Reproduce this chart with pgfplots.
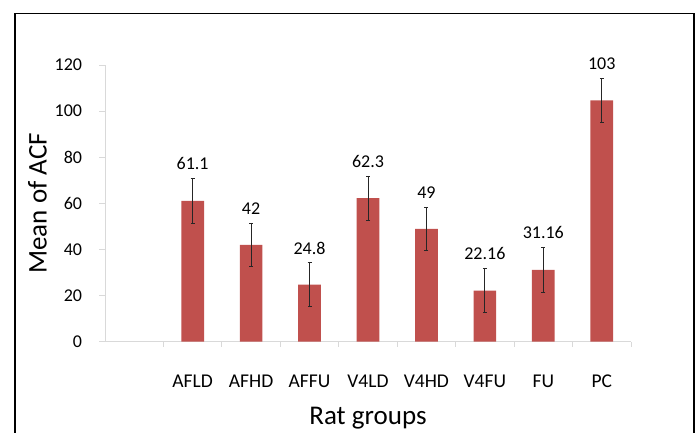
\documentclass[border=0pt]{standalone}
\usepackage{pgfplots}
\pgfplotsset{compat=1.18}
\usepackage{pgfplotstable}
\usepackage{fontspec}
\setmainfont{Carlito}

\definecolor{barred}{HTML}{C0504D}
\definecolor{axgray}{HTML}{D9D9D9}
\definecolor{errgray}{HTML}{262626}

% x: 0 is the empty first slot, then the eight groups
\pgfplotstableread{
x y     err lab
1 61.1  9.6 61.1
2 42.0  9.5 42
3 24.8  9.4 24.8
4 62.3  9.6 62.3
5 48.9  9.4 49
6 22.16 9.5 22.16
7 31.16 9.6 31.16
8 104.7 9.5 103
}\acfdata

\begin{document}
\begin{tikzpicture}
\useasboundingbox (0,0) rectangle (697pt,-432pt);
\draw[line width=1.6pt] (15pt,-440pt) -- (15pt,-13.3pt) -- (694pt,-13.3pt) -- (694pt,-440pt);
\begin{axis}[
    at={(105pt,-341.7pt)}, anchor=south west,
    scale only axis,
    width=526pt, height=276.7pt,
    xmin=-0.5, xmax=8.5,
    ymin=0, ymax=120,
    clip=false,
    axis x line=bottom, axis y line=left,
    axis line style={draw=axgray, line width=0.8pt, -},
    tick align=outside,
    ytick={0,20,...,120},
    xtick={1,...,8},
    xticklabels={AFLD,AFHD,AFFU,V4LD,V4HD,V4FU,FU,PC},
    minor xtick={0.5,1.5,...,8.5},
    major tick length=5.7pt,
    minor tick length=5pt,
    every tick/.style={draw=axgray, line width=0.8pt},
    every major x tick/.append style={draw=none},
    /pgf/number format/assume math mode=true,
    yticklabel style={anchor=east, inner sep=0pt, xshift=-17pt,
        font=\fontsize{18}{20}\selectfont},
    xticklabel style={anchor=north, inner sep=0pt, yshift=-27.6pt,
        font=\fontsize{19.5}{22}\selectfont},
    xlabel={Rat groups},
    ylabel={Mean of ACF},
    xlabel style={at={(axis description cs:0.5,-0.301)}, anchor=base,
        inner sep=0pt, font=\fontsize{27}{30}\selectfont},
    ylabel style={at={(axis description cs:-0.1108,0.5)}, anchor=base,
        inner sep=0pt, font=\fontsize{27}{30}\selectfont},
]
\addplot[ybar, bar width=22.7pt, fill=barred, draw=none,
    error bars/.cd, y dir=both, y explicit,
    error bar style={draw=errgray, line width=0.8pt},
    error mark options={draw=errgray, line width=0.8pt, mark size=2pt, rotate=90}]
    table[x=x, y=y, y error=err] {\acfdata};
\addplot[draw=none, mark=none,
    nodes near coords, point meta=explicit symbolic,
    every node near coord/.style={anchor=south, inner sep=0pt, yshift=8.5pt,
        text=black, font=\fontsize{18}{20}\selectfont}]
    table[x=x, y expr=\thisrow{y}+\thisrow{err}, meta=lab] {\acfdata};
\end{axis}
\end{tikzpicture}
\end{document}
